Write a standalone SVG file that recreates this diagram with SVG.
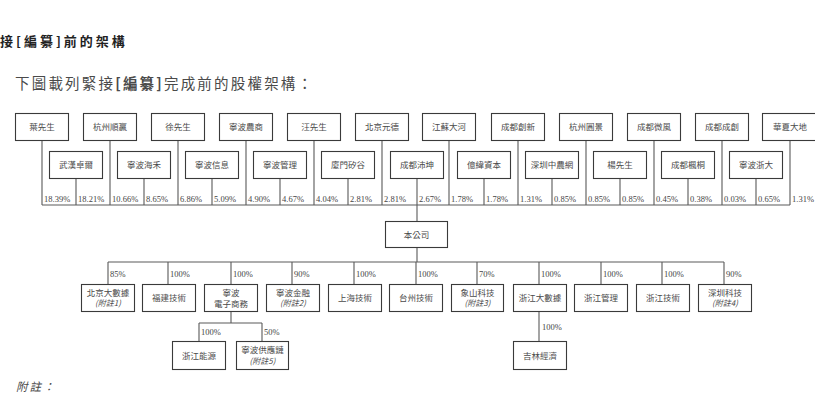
<svg xmlns="http://www.w3.org/2000/svg" width="815" height="415" viewBox="0 0 815 415">
<style>
.bg{fill:#ffffff}
.box{fill:#ffffff;stroke:#3a3a3a;stroke-width:1.1}
.ln{stroke:#5a5a5a;stroke-width:1.1;fill:none}
.t{font-family:"Noto Sans CJK TC","Noto Sans CJK SC",sans-serif;font-size:8.5px;fill:#4a4a4a;text-anchor:middle}
.n{font-family:"Noto Sans CJK TC","Noto Sans CJK SC",sans-serif;font-size:8px;fill:#4a4a4a;text-anchor:middle;font-style:italic}
.p{font-family:"Liberation Serif",serif;font-size:8.5px;fill:#444}
.title{font-family:"Noto Sans CJK TC","Noto Sans CJK SC",sans-serif;font-size:13px;font-weight:bold;fill:#222;letter-spacing:3px}
.sub{font-family:"Noto Sans CJK TC","Noto Sans CJK SC",sans-serif;font-size:14.5px;fill:#4a4a4a;letter-spacing:2.2px}
.note{font-family:"Noto Sans CJK TC","Noto Sans CJK SC",sans-serif;font-size:11.5px;fill:#4a4a4a;font-style:italic;letter-spacing:2px}
</style>
<rect class="bg" x="0" y="0" width="815" height="415"/>
<text class="title" x="0" y="46">接[編纂]前的架構</text>
<text class="sub" x="15" y="89">下圖載列緊接<tspan font-weight="bold">[編纂]</tspan>完成前的股權架構：</text>

<g id="connectors">
<path class="ln" d="M42 140V205M110 140V205M178 140V205M246 140V205M314 140V205M382 140V205M449 140V205M518 140V205M586 140V205M654 140V205M722 140V205M790 140V205"/>
<path class="ln" d="M76 178V205M144 178V205M212 178V205M280 178V205M348 178V205M484 178V205M552 178V205M620 178V205M688 178V205M756 178V205"/>
<path class="ln" d="M417 178V221"/>
<path class="ln" d="M42 205H790"/>
<path class="ln" d="M417 247V262M108 262H724"/>
<path class="ln" d="M108 262V284M168 262V284M231 262V284M292 262V284M354 262V284M416 262V284M477 262V284M539 262V284M601 262V284M662 262V284M724 262V284"/>
<path class="ln" d="M231 311V323M199 323H262M199 323V341M262 323V341"/>
<path class="ln" d="M539 311V341"/>
</g>

<g id="pcts">
<text class="p" x="44" y="202">18.39%</text>
<text class="p" x="78" y="202">18.21%</text>
<text class="p" x="112" y="202">10.66%</text>
<text class="p" x="146" y="202">8.65%</text>
<text class="p" x="180" y="202">6.86%</text>
<text class="p" x="214" y="202">5.09%</text>
<text class="p" x="248" y="202">4.90%</text>
<text class="p" x="282" y="202">4.67%</text>
<text class="p" x="316" y="202">4.04%</text>
<text class="p" x="350" y="202">2.81%</text>
<text class="p" x="384" y="202">2.81%</text>
<text class="p" x="419" y="202">2.67%</text>
<text class="p" x="451" y="202">1.78%</text>
<text class="p" x="486" y="202">1.78%</text>
<text class="p" x="520" y="202">1.31%</text>
<text class="p" x="554" y="202">0.85%</text>
<text class="p" x="588" y="202">0.85%</text>
<text class="p" x="622" y="202">0.85%</text>
<text class="p" x="656" y="202">0.45%</text>
<text class="p" x="690" y="202">0.38%</text>
<text class="p" x="724" y="202">0.03%</text>
<text class="p" x="758" y="202">0.65%</text>
<text class="p" x="792" y="202">1.31%</text>
<text class="p" x="110" y="277">85%</text>
<text class="p" x="170" y="277">100%</text>
<text class="p" x="233" y="277">100%</text>
<text class="p" x="294" y="277">90%</text>
<text class="p" x="356" y="277">100%</text>
<text class="p" x="418" y="277">100%</text>
<text class="p" x="479" y="277">70%</text>
<text class="p" x="541" y="277">100%</text>
<text class="p" x="603" y="277">100%</text>
<text class="p" x="664" y="277">100%</text>
<text class="p" x="726" y="277">90%</text>
<text class="p" x="201" y="335">100%</text>
<text class="p" x="264" y="335">50%</text>
<text class="p" x="542" y="330">100%</text>
</g>

<g id="n-ye"><rect class="box" x="15.5" y="113.5" width="53" height="27"/><text class="t" x="42" y="130">葉先生</text></g>
<g id="n-hzsy"><rect class="box" x="83.5" y="113.5" width="53" height="27"/><text class="t" x="110" y="130">杭州順贏</text></g>
<g id="n-xu"><rect class="box" x="151.5" y="113.5" width="53" height="27"/><text class="t" x="178" y="130">徐先生</text></g>
<g id="n-nbns"><rect class="box" x="219.5" y="113.5" width="53" height="27"/><text class="t" x="246" y="130">寧波農商</text></g>
<g id="n-wang"><rect class="box" x="287.5" y="113.5" width="53" height="27"/><text class="t" x="314" y="130">汪先生</text></g>
<g id="n-bjyd"><rect class="box" x="355.5" y="113.5" width="53" height="27"/><text class="t" x="382" y="130">北京元德</text></g>
<g id="n-jsdh"><rect class="box" x="422.5" y="113.5" width="53" height="27"/><text class="t" x="449" y="130">江蘇大河</text></g>
<g id="n-cdcx"><rect class="box" x="491.5" y="113.5" width="53" height="27"/><text class="t" x="518" y="130">成都創新</text></g>
<g id="n-hzyj"><rect class="box" x="559.5" y="113.5" width="53" height="27"/><text class="t" x="586" y="130">杭州圓景</text></g>
<g id="n-cdwf"><rect class="box" x="627.5" y="113.5" width="53" height="27"/><text class="t" x="654" y="130">成都微風</text></g>
<g id="n-cdcc"><rect class="box" x="695.5" y="113.5" width="53" height="27"/><text class="t" x="722" y="130">成都成創</text></g>
<g id="n-hxdd"><rect class="box" x="762.5" y="113.5" width="54" height="27"/><text class="t" x="790" y="130">華夏大地</text></g>

<g id="n-whze"><rect class="box" x="49.5" y="151.5" width="53" height="27"/><text class="t" x="76" y="168">武漢卓爾</text></g>
<g id="n-nbhh"><rect class="box" x="117.5" y="151.5" width="53" height="27"/><text class="t" x="144" y="168">寧波海禾</text></g>
<g id="n-nbxx"><rect class="box" x="185.5" y="151.5" width="53" height="27"/><text class="t" x="212" y="168">寧波信息</text></g>
<g id="n-nbgl"><rect class="box" x="253.5" y="151.5" width="53" height="27"/><text class="t" x="280" y="168">寧波管理</text></g>
<g id="n-xmxg"><rect class="box" x="321.5" y="151.5" width="53" height="27"/><text class="t" x="348" y="168">廈門矽谷</text></g>
<g id="n-cdpk"><rect class="box" x="390.5" y="151.5" width="53" height="27"/><text class="t" x="417" y="168">成都沛坤</text></g>
<g id="n-ywzb"><rect class="box" x="457.5" y="151.5" width="53" height="27"/><text class="t" x="484" y="168">億緯資本</text></g>
<g id="n-szznw"><rect class="box" x="525.5" y="151.5" width="53" height="27"/><text class="t" x="552" y="168">深圳中農網</text></g>
<g id="n-yang"><rect class="box" x="593.5" y="151.5" width="53" height="27"/><text class="t" x="620" y="168">楊先生</text></g>
<g id="n-cdft"><rect class="box" x="661.5" y="151.5" width="53" height="27"/><text class="t" x="688" y="168">成都楓桐</text></g>
<g id="n-nbzd"><rect class="box" x="729.5" y="151.5" width="53" height="27"/><text class="t" x="756" y="168">寧波浙大</text></g>

<g id="n-company"><rect class="box" x="385.5" y="221.5" width="62" height="26"/><text class="t" x="416.5" y="237.5">本公司</text></g>

<g id="n-bjdsj"><rect class="box" x="81.5" y="284.5" width="53" height="27"/><text class="t" x="108" y="296">北京大數據</text><text class="n" x="108" y="306">(附註1)</text></g>
<g id="n-fjjs"><rect class="box" x="142.5" y="284.5" width="53" height="27"/><text class="t" x="169" y="301">福建技術</text></g>
<g id="n-nbdzsw"><rect class="box" x="204.5" y="284.5" width="53" height="27"/><text class="t" x="231" y="296">寧波</text><text class="t" x="231" y="306.5">電子商務</text></g>
<g id="n-nbjr"><rect class="box" x="266.5" y="284.5" width="53" height="27"/><text class="t" x="293" y="296">寧波金融</text><text class="n" x="293" y="306">(附註2)</text></g>
<g id="n-shjs"><rect class="box" x="328.5" y="284.5" width="53" height="27"/><text class="t" x="355" y="301">上海技術</text></g>
<g id="n-tzjs"><rect class="box" x="389.5" y="284.5" width="53" height="27"/><text class="t" x="416" y="301">台州技術</text></g>
<g id="n-xskj"><rect class="box" x="451.5" y="284.5" width="52" height="27"/><text class="t" x="477.5" y="296">象山科技</text><text class="n" x="477.5" y="306">(附註3)</text></g>
<g id="n-zjdsj"><rect class="box" x="513.5" y="284.5" width="53" height="27"/><text class="t" x="540" y="301">浙江大數據</text></g>
<g id="n-zjgl"><rect class="box" x="574.5" y="284.5" width="53" height="27"/><text class="t" x="601" y="301">浙江管理</text></g>
<g id="n-zjjs"><rect class="box" x="636.5" y="284.5" width="53" height="27"/><text class="t" x="663" y="301">浙江技術</text></g>
<g id="n-szkj"><rect class="box" x="698.5" y="284.5" width="53" height="27"/><text class="t" x="725" y="296">深圳科技</text><text class="n" x="725" y="306">(附註4)</text></g>

<g id="n-zjny"><rect class="box" x="172.5" y="341.5" width="53" height="28"/><text class="t" x="199" y="358.5">浙江能源</text></g>
<g id="n-nbgyl"><rect class="box" x="236.5" y="341.5" width="52" height="28"/><text class="t" x="262.5" y="353">寧波供應鏈</text><text class="n" x="262.5" y="364">(附註5)</text></g>
<g id="n-jljj"><rect class="box" x="513.5" y="341.5" width="53" height="28"/><text class="t" x="540" y="358.5">吉林經濟</text></g>

<text class="note" x="16" y="391">附註：</text>
</svg>
